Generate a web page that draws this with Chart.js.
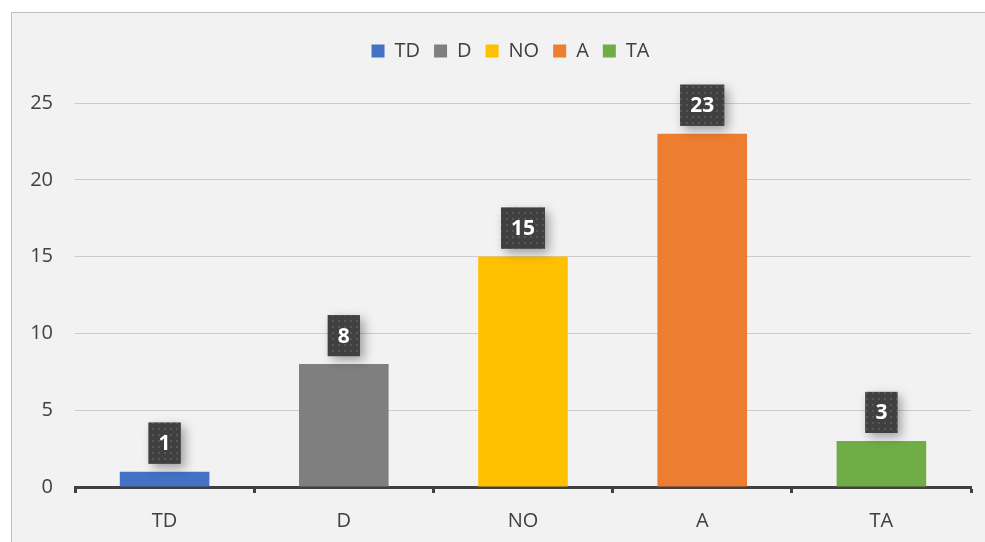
<!DOCTYPE html>
<html>
<head>
<meta charset="utf-8">
<script src="https://cdn.jsdelivr.net/npm/chart.js@4.4.1/dist/chart.umd.min.js"></script>
<style>
    html, body { margin: 0; padding: 0; background: #ffffff; }
    #frame { position: absolute; left: 11px; top: 12px; width: 974px; height: 530px;
             background: #f2f2f2; border-left: 1px solid #bfbfbf; border-top: 1px solid #bfbfbf; }
    #wrap { position: absolute; left: 0; top: 0; width: 985px; height: 542px; }
</style>
</head>
<body>
<div id="frame"></div>
<div id="wrap"><canvas id="myChart"></canvas></div>
<script>
const categories = ['TD', 'D', 'NO', 'A', 'TA'];
const counts = [1, 8, 15, 23, 3];
const barColors = ['#4472C4', '#7F7F7F', '#FFC000', '#ED7D31', '#70AD47'];
const yTicks = [0, 5, 10, 15, 20, 25];

const fontFamily = "'Open Sans', 'DejaVu Sans', sans-serif";
const textColor = '#404040';

// dotted dark fill used behind the value labels
function makeDotPattern(ctx) {
    const p = document.createElement('canvas');
    p.width = 6; p.height = 6;
    const pc = p.getContext('2d');
    pc.fillStyle = '#404040';
    pc.fillRect(0, 0, 6, 6);
    pc.fillStyle = '#575757';
    pc.fillRect(2, 2, 2, 2);
    return ctx.createPattern(p, 'repeat');
}

const valueBoxes = {
    id: 'valueBoxes',
    afterDatasetsDraw(chart) {
        const ctx = chart.ctx;
        const meta = chart.getDatasetMeta(0);
        const pattern = makeDotPattern(ctx);
        ctx.save();
        ctx.font = "bold 21px " + fontFamily;
        meta.data.forEach((bar, i) => {
            const txt = String(counts[i]);
            const w = ctx.measureText(txt).width + 20;
            const h = 41;
            const x = bar.x - w / 2;
            const y = bar.y - 8 - h;
            // soft shadow
            ctx.save();
            ctx.shadowColor = 'rgba(0,0,0,0.35)';
            ctx.shadowBlur = 10;
            ctx.shadowOffsetX = 4;
            ctx.shadowOffsetY = 4;
            ctx.fillStyle = '#404040';
            ctx.fillRect(x, y, w, h);
            ctx.restore();
            ctx.fillStyle = pattern;
            ctx.fillRect(x, y, w, h);
            ctx.fillStyle = '#ffffff';
            ctx.textAlign = 'center';
            ctx.textBaseline = 'middle';
            ctx.fillText(txt, bar.x, y + h / 2 + 1);
        });
        ctx.restore();
    }
};

// make room between the legend and the plot, and centre the legend on the plot
const legendGap = {
    id: 'legendGap',
    beforeInit(chart) {
        const fit = chart.legend.fit;
        chart.legend.fit = function () {
            fit.bind(chart.legend)();
            this.height = 76;
        };
    },
    afterLayout(chart) {
        chart.legend.left += 25;
        chart.legend.right += 25;
    }
};

const ctx = document.getElementById('myChart').getContext('2d');
const myChart = new Chart(ctx, {
    type: 'bar',
    data: {
        labels: categories,
        datasets: [{
            label: 'Count',
            data: counts,
            backgroundColor: barColors,
            borderWidth: 0,
            categoryPercentage: 1.0,
            barPercentage: 0.5
        }]
    },
    options: {
        responsive: true,
        maintainAspectRatio: false,
        animation: false,
        layout: {
            padding: { left: 0, right: 14, top: 27, bottom: 0 }
        },
        scales: {
            x: {
                grid: {
                    drawOnChartArea: false,
                    drawTicks: true,
                    tickLength: 6,
                    tickWidth: 3,
                    tickColor: textColor,
                    offset: true
                },
                border: { display: true, color: textColor, width: 3 },
                ticks: {
                    color: textColor,
                    padding: 16,
                    font: { family: fontFamily, size: 20 }
                },
                afterFit: axis => { axis.height = 55; }
            },
            y: {
                min: 0,
                max: 25,
                afterBuildTicks: axis => { axis.ticks = yTicks.map(v => ({ value: v })); },
                grid: { color: '#cccccc', lineWidth: 1, drawTicks: false },
                border: { display: false },
                ticks: {
                    color: textColor,
                    padding: 22,
                    font: { family: fontFamily, size: 20 }
                },
                afterFit: axis => { axis.width = 75; }
            }
        },
        plugins: {
            tooltip: { enabled: false },
            legend: {
                display: true,
                position: 'top',
                labels: {
                    boxWidth: 13,
                    boxHeight: 13,
                    color: textColor,
                    padding: 14,
                    font: { family: fontFamily, size: 20 },
                    generateLabels: () => categories.map((c, i) => ({
                        text: c,
                        fillStyle: barColors[i],
                        strokeStyle: barColors[i],
                        lineWidth: 0,
                        fontColor: textColor,
                        hidden: false,
                        index: i
                    }))
                }
            }
        }
    },
    plugins: [valueBoxes, legendGap]
});
</script>
</body>
</html>
